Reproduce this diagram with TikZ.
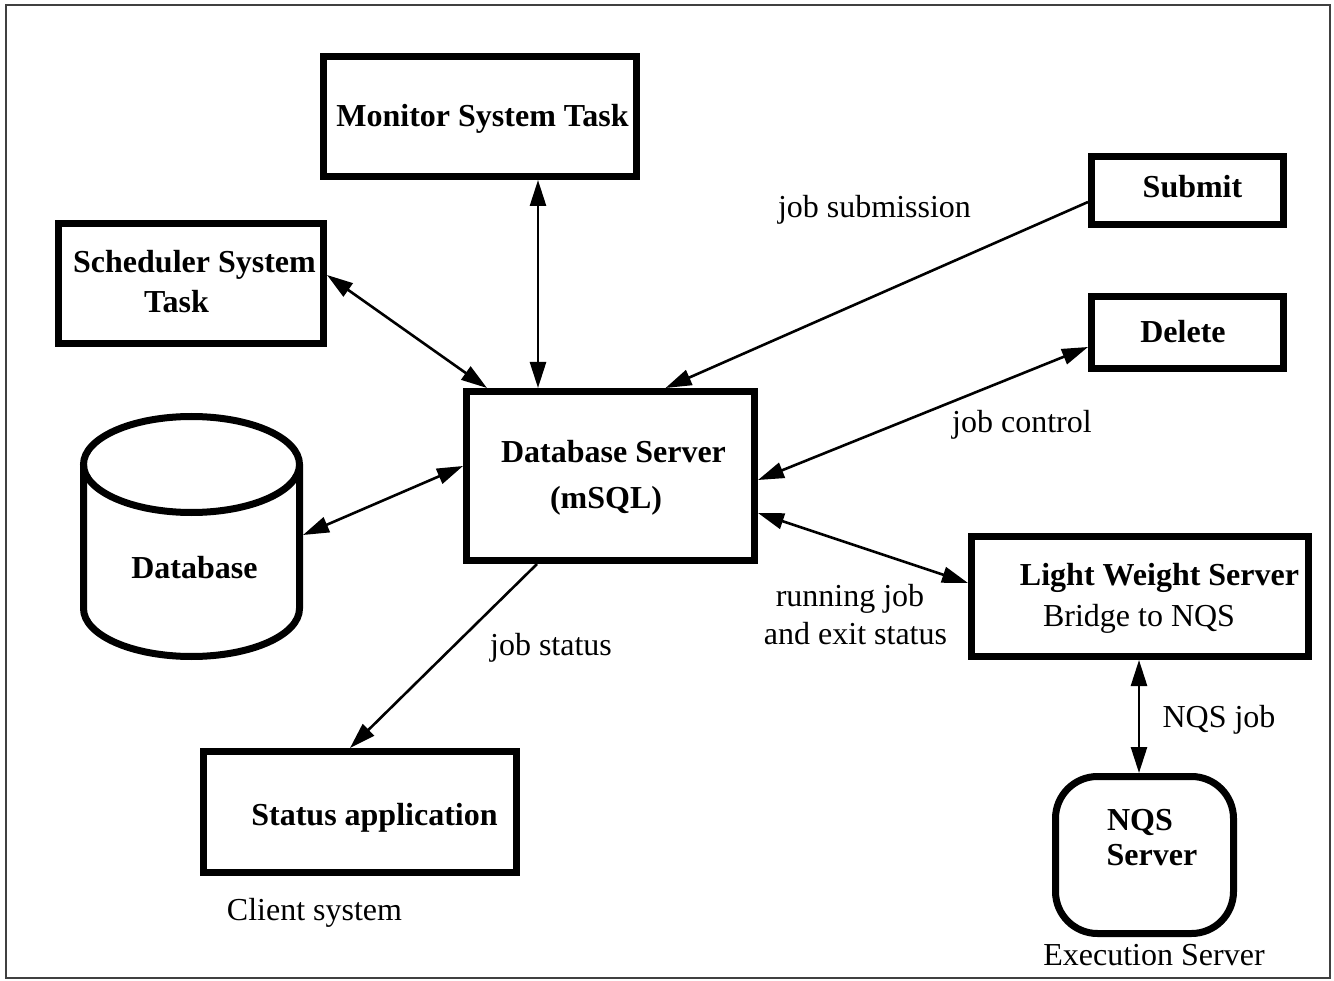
\documentclass[tikz,border=0pt]{standalone}
\usepackage{fontspec}
\setmainfont{Liberation Serif}
\usetikzlibrary{arrows.meta}
\begin{document}
\begin{tikzpicture}[x=1pt,y=-1pt,
  box/.style={draw,line width=7pt,inner sep=0pt,outer sep=3.5pt},
  lbl/.style={anchor=base,inner sep=0pt,font=\fontsize{32}{38}\selectfont\bfseries},
  txt/.style={anchor=base,inner sep=0pt,font=\fontsize{32}{38}\selectfont},
  conn/.style={line width=2.6pt},
  tip/.style={-{Triangle[length=26pt,width=16pt]}},
  tips/.style={{Triangle[length=26pt,width=16pt]}-{Triangle[length=26pt,width=16pt]}}]
\useasboundingbox (0,0) rectangle (1334,981);
\draw[line width=2pt,black!75] (5.5,5.5) rectangle (1329.5,978);

% boxes
\node[box,minimum width=313pt,minimum height=120pt] (mon) at (480,116.5) {};
\node[box,minimum width=265pt,minimum height=120pt] (sched) at (191,283.5) {};
\node[box,minimum width=192pt,minimum height=68pt] (submit) at (1187.5,190.5) {};
\node[box,minimum width=192pt,minimum height=72pt] (delete) at (1187.5,332.5) {};
\node[box,minimum width=288pt,minimum height=169pt] (dbs) at (610.5,476) {};
\node[box,minimum width=337pt,minimum height=120pt] (lws) at (1140,596.5) {};
\node[box,rounded corners=42pt,minimum width=178pt,minimum height=157pt] (nqs) at (1144.5,855) {};
\node[box,minimum width=313pt,minimum height=121pt] (stat) at (360,812) {};

% database cylinder
\draw[line width=7pt] (83.5,464.5) -- (83.5,608.5)
  arc[start angle=180,end angle=360,x radius=108pt,y radius=48pt]
  -- (299.5,464.5);
\draw[line width=7pt] (191.5,464.5) ellipse[x radius=108pt,y radius=48pt];
\coordinate (dbR) at (303,535);

% texts
\node[lbl] (tmon) at (482.5,127) {Monitor System Task};
\node[lbl] (tsch1) at (194.5,273) {Scheduler System};
\node[lbl] (tsch2) at (176.5,313) {Task};
\node[lbl] (tdbs1) at (613.5,463) {Database Server};
\node[lbl] (tdbs2) at (606,508) {(mSQL)};
\node[lbl] (tdb) at (194.5,578) {Database};
\node[lbl] (tsub) at (1192.5,198) {Submit};
\node[lbl] (tdel) at (1183,343) {Delete};
\node[lbl] (tlws) at (1159.5,585) {Light Weight Server};
\node[txt] (tbr) at (1139,626) {Bridge to NQS};
\node[lbl] (tnqs1) at (1140,830) {NQS};
\node[lbl] (tnqs2) at (1152,865) {Server};
\node[txt] (texe) at (1154,965) {Execution Server};
\node[lbl] (tstat) at (374.5,825) {Status application};
\node[txt] (tcli) at (314.5,920) {Client system};
\node[txt] (ljs) at (874.5,218) {job submission};
\node[txt] (ljc) at (1022,433) {job control};
\node[txt] (lrun1) at (850,606) {running job};
\node[txt] (lrun2) at (855.5,644) {and exit status};
\node[txt] (ljst) at (551,655) {job status};
\node[txt] (lnqs) at (1219,727) {NQS job};

% connectors
\draw[conn,tips] ([xshift=58pt]mon.south) -- ([xshift=-72.5pt]dbs.north);
\draw[conn,tips] ([yshift=8.5pt]sched.east) -- ([xshift=24pt]dbs.north west);
\draw[conn,tips] (dbR) -- ([yshift=10pt]dbs.west);
\draw[conn,tip] ([yshift=-11.5pt]submit.west) -- ([xshift=55pt]dbs.north);
\draw[conn,tips] ([yshift=-4pt]dbs.east) -- ([yshift=-14.5pt]delete.west);
\draw[conn,tips] ([yshift=-37pt]dbs.east) -- ([yshift=13.5pt]lws.west);
\draw[conn,tip] ([xshift=-73.5pt]dbs.south) -- ([xshift=-10pt]stat.north);
\draw[conn,tips] ([xshift=-1pt]lws.south) -- ([xshift=-5.5pt]nqs.north);
\end{tikzpicture}
\end{document}
